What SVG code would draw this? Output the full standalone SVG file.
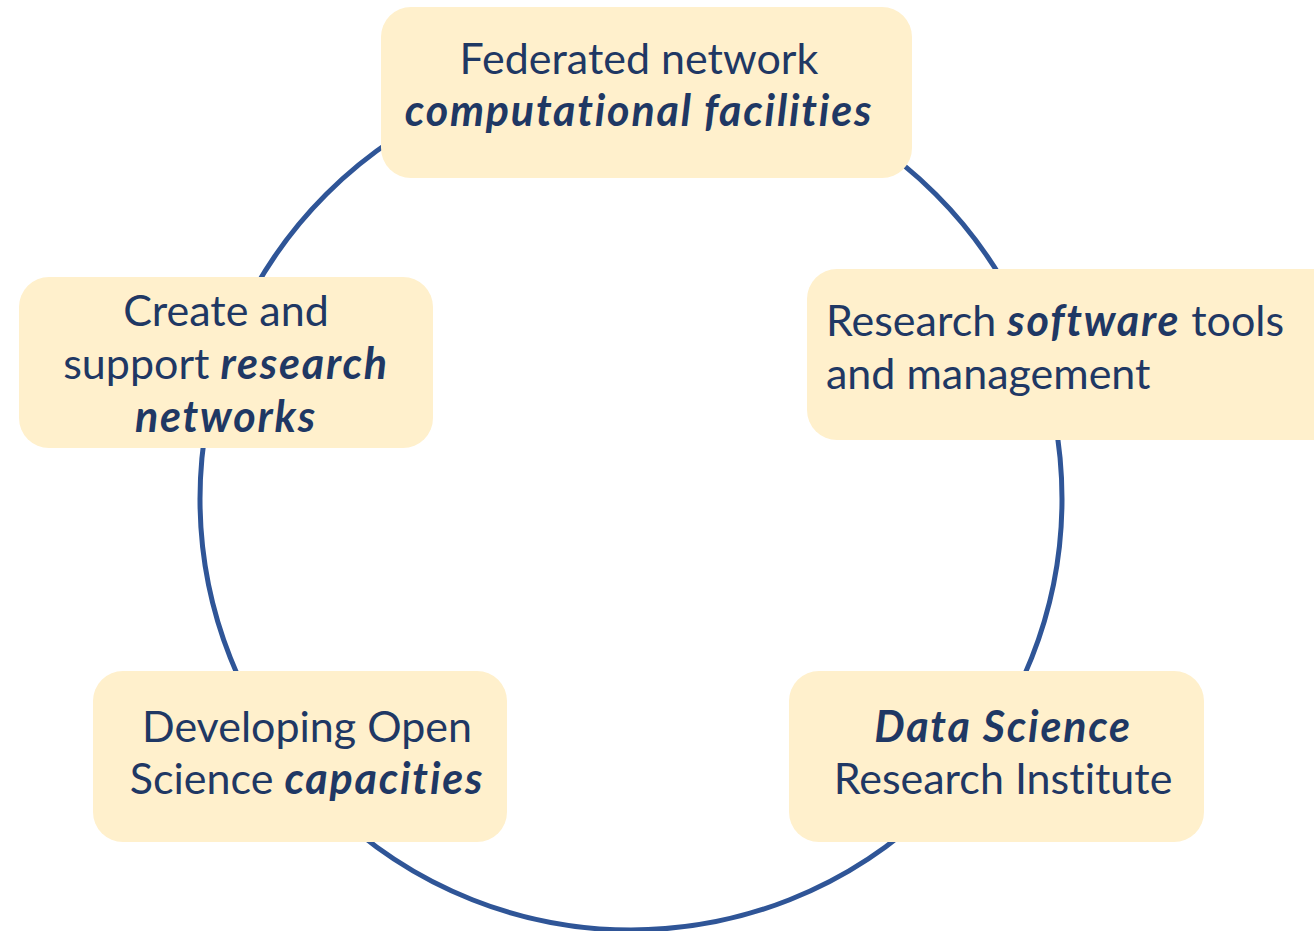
<svg xmlns="http://www.w3.org/2000/svg" width="1314" height="931" viewBox="0 0 1314 931">
<style>
.box{fill:#fff0cc;}
.t{font-family:Lato,"Open Sans","Liberation Sans",sans-serif;font-size:43px;fill:#1f3864;font-variant-ligatures:none;}
.b{font-weight:bold;font-style:italic;letter-spacing:1.8px;}
.c{text-anchor:middle;}
</style>
<rect width="1314" height="931" fill="#ffffff"/>
<g id="connectors">
<circle cx="631" cy="499" r="431" fill="none" stroke="#2f5597" stroke-width="5"/>
</g>
<g id="node-top">
<rect class="box" x="381" y="7" width="531" height="171" rx="30"/>
<text class="t c" x="639" y="74">Federated network</text>
<text class="t c b" x="639" y="126">computational facilities</text>
</g>
<g id="node-left">
<rect class="box" x="19" y="277" width="414" height="171" rx="30"/>
<text class="t c" x="226" y="326">Create and</text>
<text class="t c" x="226" y="379">support <tspan class="b">research</tspan></text>
<text class="t c b" x="226" y="432">networks</text>
</g>
<g id="node-right">
<rect class="box" x="807" y="269" width="540" height="171" rx="30"/>
<text class="t" x="826" y="336">Research <tspan class="b">software</tspan> tools</text>
<text class="t" x="826" y="389">and management</text>
</g>
<g id="node-bottom-left">
<rect class="box" x="93" y="671" width="414" height="171" rx="30"/>
<text class="t c" x="307" y="742">Developing Open</text>
<text class="t c" x="307" y="794">Science <tspan class="b">capacities</tspan></text>
</g>
<g id="node-bottom-right">
<rect class="box" x="789" y="671" width="415" height="171" rx="30"/>
<text class="t c b" x="1003" y="742">Data Science</text>
<text class="t c" x="1003" y="794">Research Institute</text>
</g>
</svg>
